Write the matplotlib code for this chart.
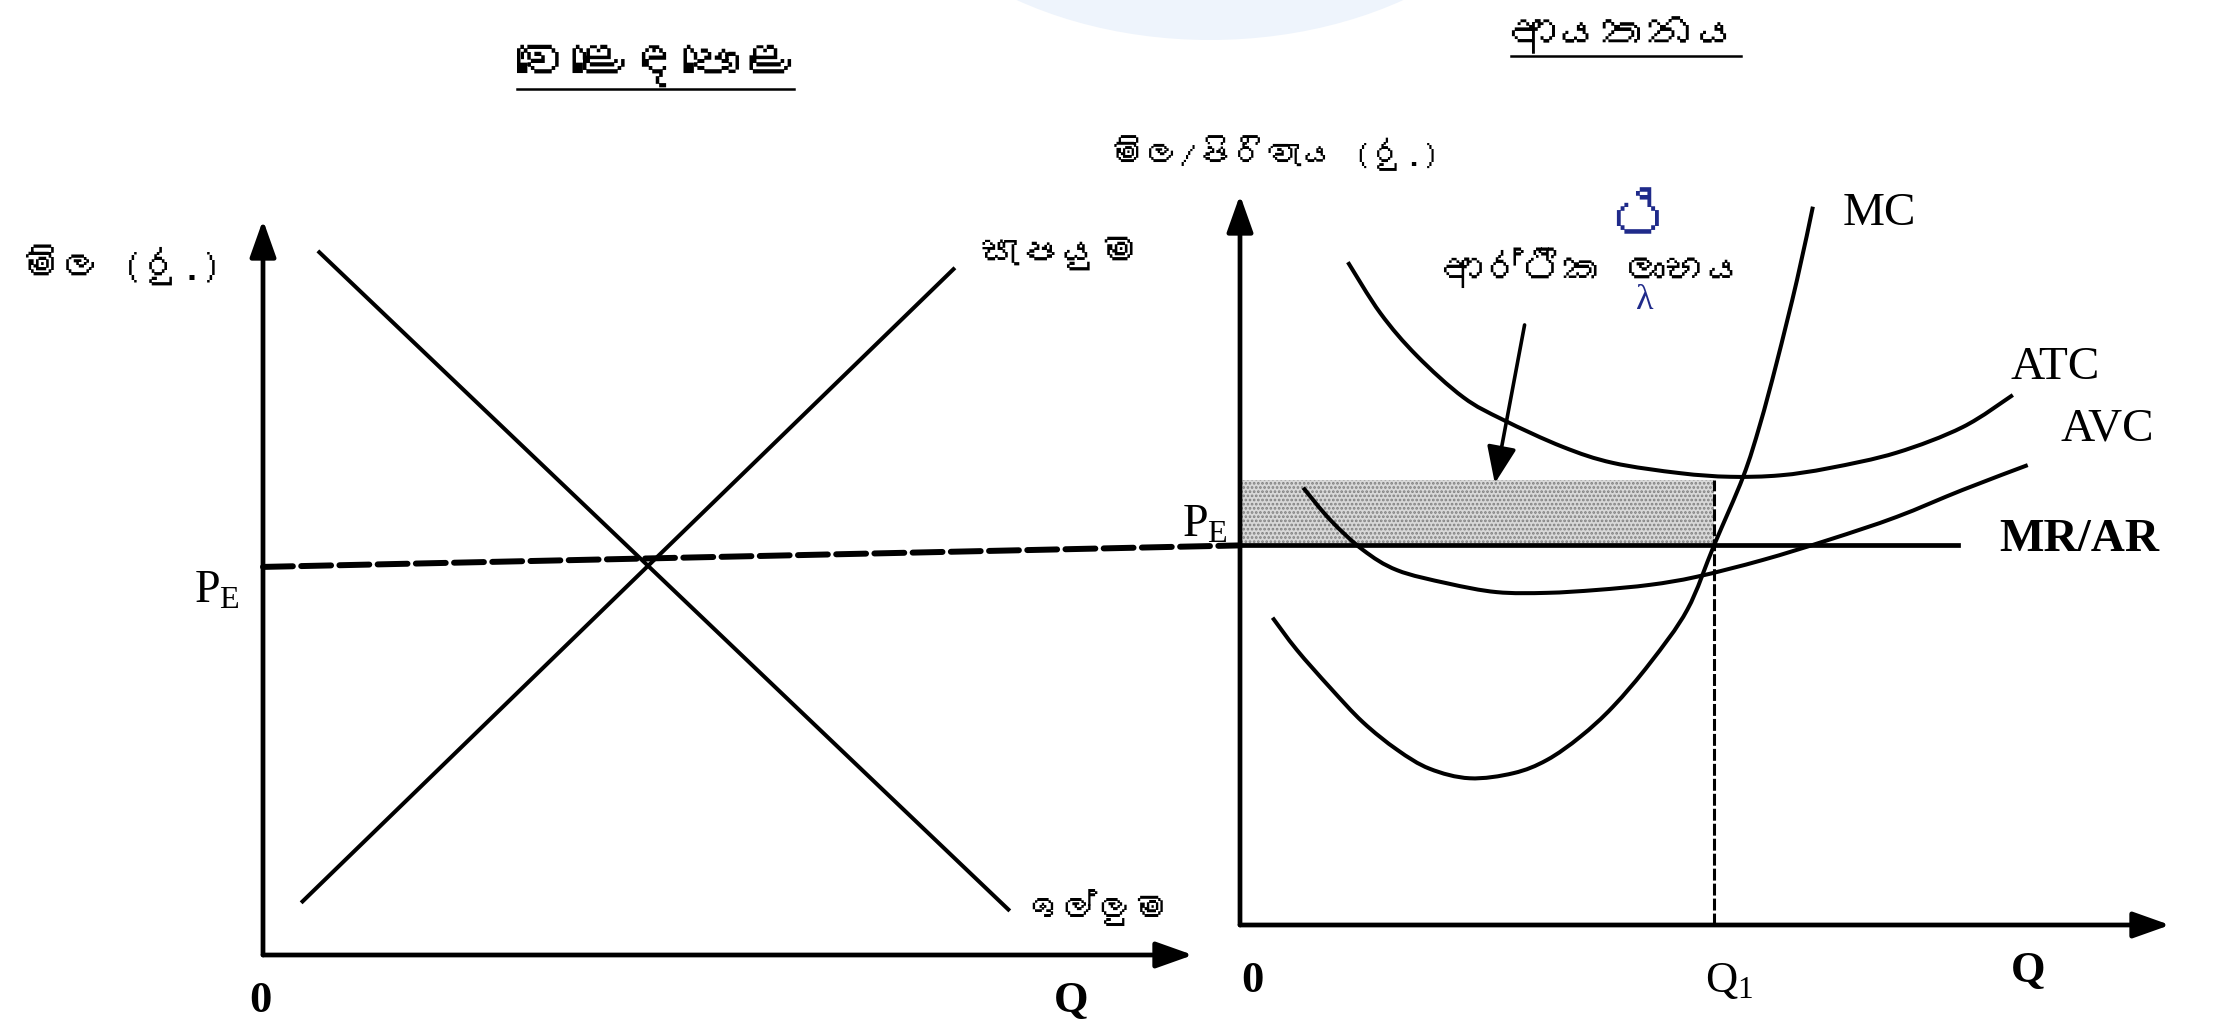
import matplotlib
matplotlib.use("Agg")
import matplotlib.pyplot as plt
from matplotlib import font_manager
from matplotlib.ft2font import FT2Font
from matplotlib.patches import ConnectionPatch, Ellipse, PathPatch
from matplotlib.path import Path
from matplotlib.lines import Line2D

# ---- left panel: the market ----
demand_q = [0.59, 8.03]
demand_p = [9.58, 0.60]
supply_q = [0.41, 7.44]
supply_p = [0.71, 9.35]
market_pe = 5.28

# ---- right panel: the firm ----
mc_q = [0.35, 0.61, 0.97, 1.32, 1.69, 2.04, 2.47, 2.94, 3.30, 3.66, 4.01,
        4.41, 4.81, 5.10, 5.41, 5.59, 5.77, 5.99, 6.16]
mc_c = [4.21, 3.77, 3.25, 2.78, 2.40, 2.14, 2.01, 2.08, 2.26, 2.58, 2.99,
        3.59, 4.32, 5.21, 6.14, 6.85, 7.70, 8.84, 9.84]
atc_q = [1.16, 1.51, 1.90, 2.40, 2.83, 3.47, 4.01, 4.73, 5.27, 5.81, 6.34,
         7.06, 7.77, 8.31]
atc_c = [9.08, 8.38, 7.80, 7.23, 6.92, 6.55, 6.33, 6.19, 6.14, 6.16, 6.26,
         6.47, 6.82, 7.26]
avc_q = [0.68, 0.97, 1.32, 1.69, 2.23, 2.76, 3.30, 3.84, 4.41, 4.91, 5.62,
         6.34, 7.06, 7.77, 8.47]
avc_c = [5.99, 5.55, 5.14, 4.86, 4.68, 4.56, 4.55, 4.59, 4.66, 4.77, 5.00,
         5.28, 5.59, 5.96, 6.30]
firm_pe = 5.2
mr_end = 7.72
q1 = 5.10
atc_at_q1 = 6.1

left_title = "වෙළෙඳපොළ"
right_title = "ආයතනය"
left_ylabel = "මිල (රු.)"
right_ylabel = "මිල/පිරිවැය (රු.)"
supply_label = "සැපයුම"
demand_label = "ඉල්ලුම"
profit_label = "ආර්ථික ලාභය"


def font_with(ch):
    for f in font_manager.fontManager.ttflist:
        try:
            if ord(ch) in FT2Font(f.fname).get_charmap():
                return f.name
        except Exception:
            continue
    return None


def smooth(xs, ys):
    # cubic bezier pieces through the read points (catmull-rom tangents)
    pts = list(zip(xs, ys))
    verts, codes = [pts[0]], [Path.MOVETO]
    for i in range(len(pts) - 1):
        p0 = pts[max(i - 1, 0)]
        p1, p2 = pts[i], pts[i + 1]
        p3 = pts[min(i + 2, len(pts) - 1)]
        c1 = (p1[0] + (p2[0] - p0[0]) / 6, p1[1] + (p2[1] - p0[1]) / 6)
        c2 = (p2[0] - (p3[0] - p1[0]) / 6, p2[1] - (p3[1] - p1[1]) / 6)
        verts += [c1, c2, p2]
        codes += [Path.CURVE4] * 3
    return Path(verts, codes)


sinhala_font = font_with("ම")
SIN = ([sinhala_font] if sinhala_font else []) + ["DejaVu Sans"]
SERIF = ["Liberation Serif", "DejaVu Serif"]

plt.rcParams["mathtext.fontset"] = "custom"
plt.rcParams["mathtext.rm"] = "Liberation Serif"
plt.rcParams["mathtext.it"] = "Liberation Serif"
plt.rcParams["hatch.linewidth"] = 1.3

W, H = 2219, 1031
fig = plt.figure(figsize=(W / 100, H / 100), dpi=100)
fig.patch.set_facecolor("white")

# faint watermark at the top of the scan
fig.add_artist(Ellipse((1210 / W, 1 + 200 / H), 700 / W, 480 / H,
                       transform=fig.transFigure, facecolor="#eef4fc",
                       edgecolor="none", zorder=0))

ax1 = fig.add_axes([263 / W, (H - 955) / H, 930 / W, 735 / H])
ax2 = fig.add_axes([1240 / W, (H - 925) / H, 930 / W, 730 / H])
for ax in (ax1, ax2):
    ax.set_xlim(0, 10)
    ax.set_ylim(0, 10)
    ax.axis("off")
    ax.patch.set_alpha(0)
    axis_arrow = dict(arrowstyle="-|>,head_length=0.45,head_width=0.16",
                      lw=3.4, color="black", mutation_scale=50,
                      shrinkA=0, shrinkB=0)
    ax.annotate("", xy=(0, 10), xytext=(0, 0), arrowprops=axis_arrow)
    ax.annotate("", xy=(10, 0), xytext=(0, 0), arrowprops=axis_arrow)

LW = 2.9

# ---- market ----
ax1.plot(demand_q, demand_p, color="black", lw=LW, solid_capstyle="butt")
ax1.plot(supply_q, supply_p, color="black", lw=LW, solid_capstyle="butt")

ax1.text(-0.44, 9.40, left_ylabel, family=SIN, fontsize=29,
         ha="right", va="center")
ax1.text(7.70, 9.55, supply_label, family=SIN, fontsize=29,
         ha="left", va="center")
ax1.text(8.20, 0.64, demand_label, family=SIN, fontsize=26,
         ha="left", va="center")
ax1.text(-0.03, -0.63, "0", family=SERIF, fontsize=32, fontweight="bold",
         ha="center", va="center")
ax1.text(8.69, -0.63, "Q", family=SERIF, fontsize=32, fontweight="bold",
         ha="center", va="center")
ax1.text(-0.25, 4.95, r"P$_\mathrm{E}$", family=SERIF, fontsize=33,
         ha="right", va="center")
t1 = ax1.text(4.22, 12.12, left_title, family=SIN, fontsize=40,
              ha="center", va="center")

# price line carried across to the firm
fig.add_artist(ConnectionPatch(xyA=(0, market_pe), coordsA=ax1.transData,
                               xyB=(0, firm_pe), coordsB=ax2.transData,
                               color="black", lw=4.3,
                               linestyle=(0, (5, 1.4))))

# ---- firm ----
ax2.fill_between([0, q1], firm_pe, atc_at_q1, facecolor="#d8d8d8",
                 edgecolor="#808080", hatch="....", linewidth=0, zorder=1)
ax2.plot([0, mr_end], [firm_pe, firm_pe], color="black", lw=3.4, zorder=3)
ax2.plot([q1, q1], [0, atc_at_q1], color="black", lw=2.2,
         linestyle=(0, (3.9, 1.0)), zorder=2)
for qs, cs in ((mc_q, mc_c), (atc_q, atc_c), (avc_q, avc_c)):
    ax2.add_patch(PathPatch(smooth(qs, cs), facecolor="none",
                            edgecolor="black", lw=LW, zorder=3))

ax2.text(6.48, 9.75, "MC", family=SERIF, fontsize=34, ha="left", va="center")
ax2.text(8.28, 7.63, "ATC", family=SERIF, fontsize=34, ha="left", va="center")
ax2.text(8.82, 6.79, "AVC", family=SERIF, fontsize=34, ha="left", va="center")
ax2.text(8.16, 5.27, "MR/AR", family=SERIF, fontsize=34, fontweight="bold",
         ha="left", va="center")
ax2.text(-0.13, 5.47, r"P$_\mathrm{E}$", family=SERIF, fontsize=33,
         ha="right", va="center")
ax2.text(0.13, -0.77, "0", family=SERIF, fontsize=32, fontweight="bold",
         ha="center", va="center")
ax2.text(5.26, -0.77, r"Q$_\mathrm{1}$", family=SERIF, fontsize=32,
         ha="center", va="center")
ax2.text(8.48, -0.63, "Q", family=SERIF, fontsize=32, fontweight="bold",
         ha="center", va="center")
ax2.text(0.38, 10.58, right_ylabel, family=SIN, fontsize=25,
         ha="center", va="center")
t2 = ax2.text(4.15, 12.19, right_title, family=SIN, fontsize=33,
              ha="center", va="center")
ax2.text(2.18, 9.0, profit_label, family=SIN, fontsize=29,
         ha="left", va="center")
ax2.annotate("", xy=(2.74, 6.05), xytext=(3.06, 8.22),
             arrowprops=dict(arrowstyle="-|>,head_length=0.75,head_width=0.3",
                             lw=2.6, color="black", mutation_scale=30,
                             shrinkA=0, shrinkB=0))

# pen correction on the print
ax2.text(4.33, 9.60, "ථ", family=SIN, fontsize=44, color="#1f2a8a",
         ha="center", va="center")
ax2.text(4.35, 8.55, "λ", family=SERIF, fontsize=26, color="#1f2a8a",
         ha="center", va="center")

# underline the two titles
fig.canvas.draw()
inv = fig.transFigure.inverted()
for t in (t1, t2):
    bb = t.get_window_extent()
    (x0, y0), (x1, _) = inv.transform([(bb.x0, bb.y0 - 2), (bb.x1, bb.y1)])
    fig.add_artist(Line2D([x0, x1], [y0, y0], transform=fig.transFigure,
                          color="black", lw=1.8))

fig.savefig("out.png", dpi=100, facecolor="white")
